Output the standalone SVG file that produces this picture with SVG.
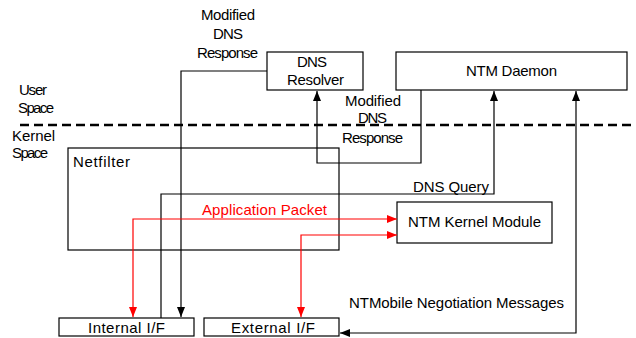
<svg xmlns="http://www.w3.org/2000/svg" width="636" height="338" viewBox="0 0 636 338">
<defs>
<marker id="ab" viewBox="0 0 10 8" refX="10" refY="4" markerWidth="10" markerHeight="8" markerUnits="userSpaceOnUse" orient="auto-start-reverse"><path d="M0,0 L10,4 L0,8 Z" fill="#000"/></marker>
<marker id="ar" viewBox="0 0 10 8" refX="10" refY="4" markerWidth="10" markerHeight="8" markerUnits="userSpaceOnUse" orient="auto-start-reverse"><path d="M0,0 L10,4 L0,8 Z" fill="#f00"/></marker>
</defs>
<style>
text{font-family:"Liberation Sans",Arial,sans-serif;font-size:15px;fill:#000}
.box{fill:#fff;stroke:#000;stroke-width:1.2}
.k{fill:none;stroke:#000;stroke-width:1.2}
.r{fill:none;stroke:#f00;stroke-width:1.2}
</style>
<rect width="636" height="338" fill="#fff"/>
<g id="labels">
<text x="19" y="95" textLength="28">User</text>
<text x="18" y="113" textLength="36">Space</text>
<text x="12" y="141" textLength="43">Kernel</text>
<text x="12" y="158" textLength="36">Space</text>
</g>
<line x1="20" y1="125" x2="632" y2="125" stroke="#000" stroke-width="2.4" stroke-dasharray="9,5"/>
<g id="netfilter"><rect class="box" x="68" y="148" width="271" height="102"/><text x="73" y="167" textLength="57">Netfilter</text></g>
<g id="dns-resolver"><rect class="box" x="267" y="52" width="96" height="38"/><text x="297" y="67" textLength="30">DNS</text><text x="287" y="85" textLength="57">Resolver</text></g>
<g id="ntm-daemon"><rect class="box" x="396" y="52" width="231" height="38"/><text x="466" y="76" textLength="91">NTM Daemon</text></g>
<g id="ntm-kernel-module"><rect class="box" x="397" y="202" width="155" height="41"/><text x="408" y="227" textLength="133">NTM Kernel Module</text></g>
<g id="internal-if"><rect class="box" x="59" y="318" width="135" height="18"/><text x="88" y="333" textLength="77">Internal I/F</text></g>
<g id="external-if"><rect class="box" x="204" y="318" width="135" height="18"/><text x="231" y="333" textLength="84">External I/F</text></g>
<g id="connectors">
<polyline class="k" points="267,71 181,71 181,317" marker-end="url(#ab)"/>
<polyline class="k" points="421,90 421,163 317,163 317,91" marker-end="url(#ab)"/>
<polyline class="k" points="161,318 161,194 494,194 494,91" marker-end="url(#ab)"/>
<polyline class="k" points="576,91 576,333 340,333" marker-start="url(#ab)" marker-end="url(#ab)"/>
<polyline class="r" points="397,219 133,219 133,317" marker-start="url(#ar)" marker-end="url(#ar)"/>
<polyline class="r" points="397,235 301,235 301,317" marker-start="url(#ar)" marker-end="url(#ar)"/>
</g>
<g id="connector-labels">
<text x="201" y="20" textLength="54">Modified</text>
<text x="213" y="39" textLength="30">DNS</text>
<text x="197" y="58" textLength="61">Response</text>
<text x="345" y="106" textLength="56">Modified</text>
<text x="358" y="123" textLength="29">DNS</text>
<text x="342" y="143" textLength="61">Response</text>
<text x="413" y="192" textLength="76">DNS Query</text>
<text x="202" y="215" textLength="125" style="fill:#f00">Application Packet</text>
<text x="349" y="308" textLength="215">NTMobile Negotiation Messages</text>
</g>
</svg>
